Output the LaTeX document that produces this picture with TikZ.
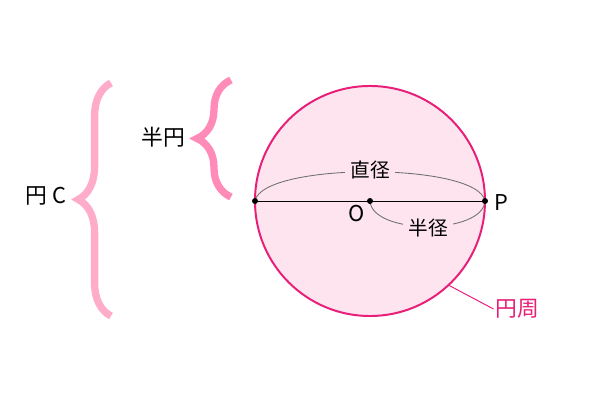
\documentclass[tikz,border=0pt]{standalone}
\usepackage{fontspec}
\setmainfont{Noto Sans CJK JP}
\usetikzlibrary{positioning, decorations.pathreplacing}
\definecolor{circfill}{RGB}{253,228,238}
\definecolor{circline}{RGB}{232,30,120}
\definecolor{bracebig}{RGB}{255,172,203}
\definecolor{bracesmall}{RGB}{255,140,184}
\definecolor{arcgray}{RGB}{110,110,110}
\begin{document}
\begin{tikzpicture}[x=0.025cm, y=0.025cm,
    lbl/.style={font=\fontsize{15.5}{18}\selectfont, inner sep=1pt},
    arclbl/.style={font=\fontsize{14}{17}\selectfont, fill=circfill, inner sep=4pt},
    bracepath/.style={decorate, line width=5.2pt, decoration={brace, amplitude=#1}},
    dot/.style={circle, fill=black, inner sep=0pt, minimum size=0.15cm}]
      \useasboundingbox (0,0) rectangle (600,400);

      \coordinate (L) at (255,199);
      \coordinate (O) at (370,199);
      \coordinate (P) at (485,199);

      \node[circle, draw=circline, fill=circfill, line width=1.4pt, minimum size=5.75cm, inner sep=0pt, outer sep=0pt] (circ) at (O) {};

      \draw[arcgray, line width=0.6pt] (L) .. controls (262,238) and (478,238) .. (P);
      \draw[arcgray, line width=0.6pt] (O) .. controls (372,165) and (483,165) .. (P);
      \node[arclbl] (diam) at (370,230) {直径};
      \node[arclbl] (rad) at (428,172) {半径};

      \draw[black, line width=0.7pt] (L) -- (P);
      \node[dot] (dotL) at (L) {};
      \node[dot] (dotO) at (O) {};
      \node[dot] (dotP) at (P) {};
      \node[lbl] (lblO) at (357,186) {O};
      \node[lbl] (lblP) at (501,197) {P};

      \node[lbl, text=circline] (perim) at (517,91) {円周};
      \draw[circline, line width=0.7pt] (circ.-47) -- (perim.west);

      \coordinate (B1) at (111,84);
      \coordinate (B2) at (111,317);
      \draw[bracebig, bracepath=0.82cm] (B1) -- (B2);
      \node[lbl] (circC) at (46,204) {円 C};

      \coordinate (S1) at (231,203);
      \coordinate (S2) at (231,320);
      \draw[bracesmall, bracepath=0.85cm] (S1) -- (S2);
      \node[lbl] (semi) at (163,263) {半円};
    \end{tikzpicture}
\end{document}
